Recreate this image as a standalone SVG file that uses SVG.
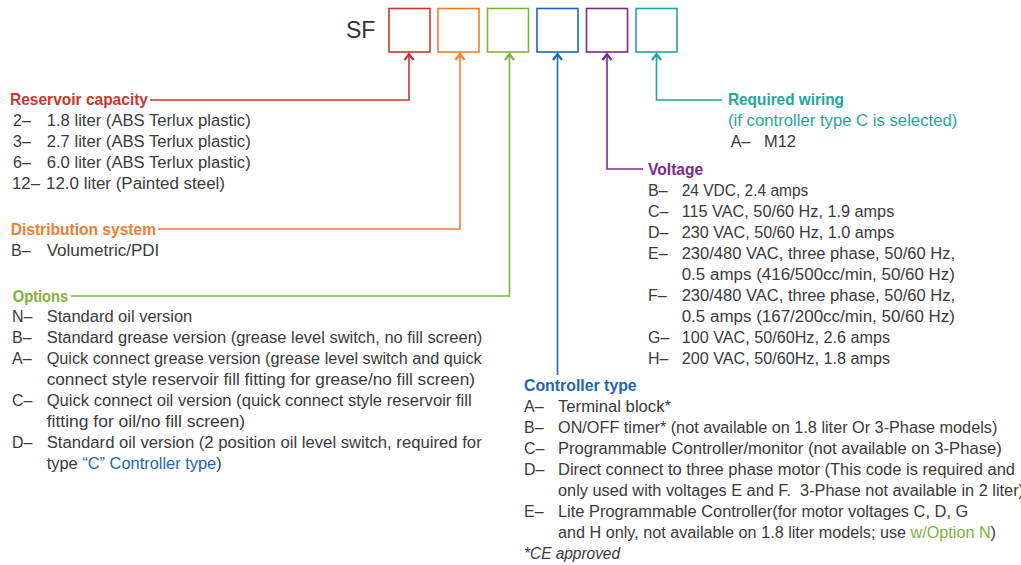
<svg xmlns="http://www.w3.org/2000/svg" width="1021" height="565" viewBox="0 0 1021 565">
<style>
text{font-family:"Liberation Sans",Arial,sans-serif;font-size:16px;fill:#3a3a3a}
.t{font-weight:700;font-size:16.5px}
.red{fill:#c9372c}.org{fill:#f07d2e}.grn{fill:#7fb241}.blu{fill:#1f66b1}.pur{fill:#7b2a8c}.tea{fill:#1ea79a}
.box{fill:none;stroke-width:1.6}
.c{fill:none;stroke-width:1.6}
.sf{font-size:23px;fill:#333}
.it{font-style:italic}
</style>
<defs>
<marker id="mr" markerUnits="userSpaceOnUse" markerWidth="14" markerHeight="14" viewBox="-7 -7 14 14" refX="0" refY="0" orient="auto"><path d="M-6,-4.5 L0,0 L-6,4.5" fill="none" stroke="#c9372c" stroke-width="2.2"/></marker>
<marker id="mo" markerUnits="userSpaceOnUse" markerWidth="14" markerHeight="14" viewBox="-7 -7 14 14" refX="0" refY="0" orient="auto"><path d="M-6,-4.5 L0,0 L-6,4.5" fill="none" stroke="#f07d2e" stroke-width="2.2"/></marker>
<marker id="mg" markerUnits="userSpaceOnUse" markerWidth="14" markerHeight="14" viewBox="-7 -7 14 14" refX="0" refY="0" orient="auto"><path d="M-6,-4.5 L0,0 L-6,4.5" fill="none" stroke="#7fb241" stroke-width="2.2"/></marker>
<marker id="mb" markerUnits="userSpaceOnUse" markerWidth="14" markerHeight="14" viewBox="-7 -7 14 14" refX="0" refY="0" orient="auto"><path d="M-6,-4.5 L0,0 L-6,4.5" fill="none" stroke="#1f66b1" stroke-width="2.2"/></marker>
<marker id="mp" markerUnits="userSpaceOnUse" markerWidth="14" markerHeight="14" viewBox="-7 -7 14 14" refX="0" refY="0" orient="auto"><path d="M-6,-4.5 L0,0 L-6,4.5" fill="none" stroke="#7b2a8c" stroke-width="2.2"/></marker>
<marker id="mt" markerUnits="userSpaceOnUse" markerWidth="14" markerHeight="14" viewBox="-7 -7 14 14" refX="0" refY="0" orient="auto"><path d="M-6,-4.5 L0,0 L-6,4.5" fill="none" stroke="#1ea79a" stroke-width="2.2"/></marker>
</defs>

<g id="code">
<text class="sf" x="346" y="38">SF</text>
<rect class="box" x="389" y="8.5" width="41" height="43.5" stroke="#c9372c"/>
<rect class="box" x="438" y="8.5" width="41" height="43.5" stroke="#f07d2e"/>
<rect class="box" x="487.5" y="8.5" width="41" height="43.5" stroke="#7fb241"/>
<rect class="box" x="537" y="8.5" width="41" height="43.5" stroke="#1f66b1"/>
<rect class="box" x="586.5" y="8.5" width="41" height="43.5" stroke="#7b2a8c"/>
<rect class="box" x="636" y="8.5" width="41" height="43.5" stroke="#1ea79a"/>
</g>

<g id="connectors">
<path class="c" d="M150,100 H409 V54" stroke="#c9372c" marker-end="url(#mr)"/>
<path class="c" d="M158,229 H460 V54" stroke="#f07d2e" marker-end="url(#mo)"/>
<path class="c" d="M71,296 H509.5 V54" stroke="#7fb241" marker-end="url(#mg)"/>
<path class="c" d="M557.5,375 V54" stroke="#1f66b1" marker-end="url(#mb)"/>
<path class="c" d="M643,169 H607 V54" stroke="#7b2a8c" marker-end="url(#mp)"/>
<path class="c" d="M722,100 H656.5 V54" stroke="#1ea79a" marker-end="url(#mt)"/>
</g>

<g id="reservoir">
<text class="t red" x="10" y="105" textLength="138" lengthAdjust="spacingAndGlyphs">Reservoir capacity</text>
<text x="13" y="126">2–</text><text x="46.7" y="126" textLength="204" lengthAdjust="spacingAndGlyphs">1.8 liter (ABS Terlux plastic)</text>
<text x="13" y="147">3–</text><text x="46.7" y="147" textLength="204" lengthAdjust="spacingAndGlyphs">2.7 liter (ABS Terlux plastic)</text>
<text x="13" y="168">6–</text><text x="46.7" y="168" textLength="204" lengthAdjust="spacingAndGlyphs">6.0 liter (ABS Terlux plastic)</text>
<text x="12" y="189" textLength="28" lengthAdjust="spacingAndGlyphs">12–</text><text x="46" y="189" textLength="179" lengthAdjust="spacingAndGlyphs">12.0 liter (Painted steel)</text>
</g>

<g id="distribution">
<text class="t org" x="10.7" y="235" textLength="145.3" lengthAdjust="spacingAndGlyphs">Distribution system</text>
<text x="11" y="256">B–</text><text x="46.7" y="256" textLength="112.6" lengthAdjust="spacingAndGlyphs">Volumetric/PDI</text>
</g>

<g id="options">
<text class="t grn" x="12.7" y="302" textLength="55.6" lengthAdjust="spacingAndGlyphs">Options</text>
<text x="12" y="322">N–</text><text x="46.7" y="322" textLength="145.6" lengthAdjust="spacingAndGlyphs">Standard oil version</text>
<text x="12" y="343">B–</text><text x="46.7" y="343" textLength="435.6" lengthAdjust="spacingAndGlyphs">Standard grease version (grease level switch, no fill screen)</text>
<text x="12" y="364">A–</text><text x="46.7" y="364" textLength="435" lengthAdjust="spacingAndGlyphs">Quick connect grease version (grease level switch and quick</text>
<text x="46.7" y="385" textLength="428.3" lengthAdjust="spacingAndGlyphs">connect style reservoir fill fitting for grease/no fill screen)</text>
<text x="12" y="406">C–</text><text x="46.7" y="406" textLength="425" lengthAdjust="spacingAndGlyphs">Quick connect oil version (quick connect style reservoir fill</text>
<text x="46.7" y="427" textLength="198.3" lengthAdjust="spacingAndGlyphs">fitting for oil/no fill screen)</text>
<text x="12" y="448">D–</text><text x="46.7" y="448" textLength="435" lengthAdjust="spacingAndGlyphs">Standard oil version (2 position oil level switch, required for</text>
<text x="46.7" y="469" textLength="175" lengthAdjust="spacingAndGlyphs">type <tspan class="blu">“C” Controller type</tspan>)</text>
</g>

<g id="controller">
<text class="t blu" x="524" y="390.5" textLength="112.7" lengthAdjust="spacingAndGlyphs">Controller type</text>
<text x="524" y="411.5">A–</text><text x="558" y="411.5" textLength="113" lengthAdjust="spacingAndGlyphs">Terminal block*</text>
<text x="524" y="432.5">B–</text><text x="558" y="432.5" textLength="439.3" lengthAdjust="spacingAndGlyphs">ON/OFF timer* (not available on 1.8 liter Or 3-Phase models)</text>
<text x="524" y="453.5">C–</text><text x="558" y="453.5" textLength="443.7" lengthAdjust="spacingAndGlyphs">Programmable Controller/monitor (not available on 3-Phase)</text>
<text x="524" y="474.5">D–</text><text x="558" y="474.5" textLength="457" lengthAdjust="spacingAndGlyphs">Direct connect to three phase motor (This code is required and</text>
<text x="558" y="495.5" textLength="466" lengthAdjust="spacingAndGlyphs">only used with voltages E and F.&#160; 3-Phase not available in 2 liter)</text>
<text x="524" y="516.5">E–</text><text x="558" y="516.5" textLength="410.3" lengthAdjust="spacingAndGlyphs">Lite Programmable Controller(for motor voltages C, D, G</text>
<text x="558" y="537.5" textLength="438" lengthAdjust="spacingAndGlyphs">and H only, not available on 1.8 liter models; use <tspan class="grn">w/Option N</tspan>)</text>
<text class="it" x="524" y="558.5" textLength="96" lengthAdjust="spacingAndGlyphs">*CE approved</text>
</g>

<g id="voltage">
<text class="t pur" x="648" y="175" textLength="55.3" lengthAdjust="spacingAndGlyphs">Voltage</text>
<text x="648" y="196">B–</text><text x="681.7" y="196" textLength="126.6" lengthAdjust="spacingAndGlyphs">24 VDC, 2.4 amps</text>
<text x="648" y="217">C–</text><text x="681.7" y="217" textLength="212.6" lengthAdjust="spacingAndGlyphs">115 VAC, 50/60 Hz, 1.9 amps</text>
<text x="648" y="238">D–</text><text x="681.7" y="238" textLength="212.6" lengthAdjust="spacingAndGlyphs">230 VAC, 50/60 Hz, 1.0 amps</text>
<text x="648" y="258.5">E–</text><text x="681.7" y="258.5" textLength="273.3" lengthAdjust="spacingAndGlyphs">230/480 VAC, three phase, 50/60 Hz,</text>
<text x="681.7" y="279.5" textLength="273.3" lengthAdjust="spacingAndGlyphs">0.5 amps (416/500cc/min, 50/60 Hz)</text>
<text x="648" y="300.5">F–</text><text x="681.7" y="300.5" textLength="273.3" lengthAdjust="spacingAndGlyphs">230/480 VAC, three phase, 50/60 Hz,</text>
<text x="681.7" y="321.5" textLength="273.3" lengthAdjust="spacingAndGlyphs">0.5 amps (167/200cc/min, 50/60 Hz)</text>
<text x="648" y="342.5">G–</text><text x="681.7" y="342.5" textLength="208.3" lengthAdjust="spacingAndGlyphs">100 VAC, 50/60Hz, 2.6 amps</text>
<text x="648" y="363.5">H–</text><text x="681.7" y="363.5" textLength="208.3" lengthAdjust="spacingAndGlyphs">200 VAC, 50/60Hz, 1.8 amps</text>
</g>

<g id="wiring">
<text class="t tea" x="728" y="105" textLength="116" lengthAdjust="spacingAndGlyphs">Required wiring</text>
<text class="tea" x="728" y="125.5" textLength="229.3" lengthAdjust="spacingAndGlyphs">(if controller type C is selected)</text>
<text x="730.7" y="146.7">A–</text><text x="764" y="146.7" textLength="32" lengthAdjust="spacingAndGlyphs">M12</text>
</g>
</svg>
